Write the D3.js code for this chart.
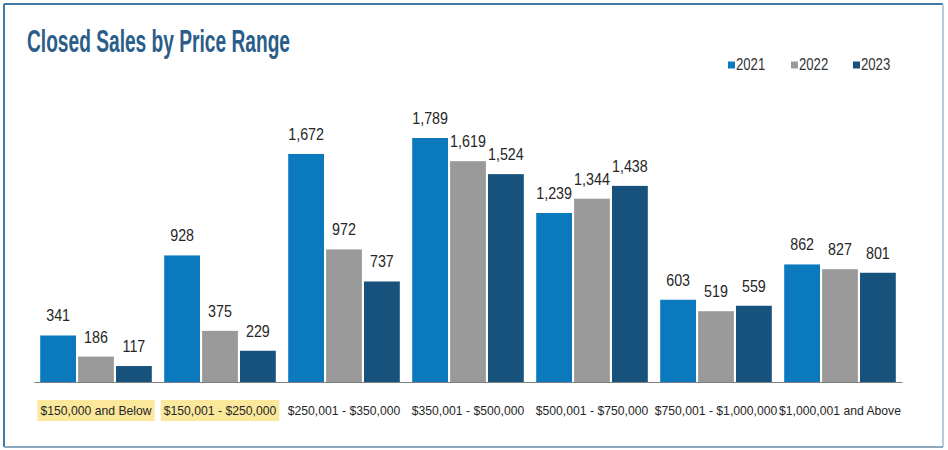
<!DOCTYPE html>
<html>
<head>
<meta charset="utf-8">
<script src="https://cdn.jsdelivr.net/npm/d3@7"></script>
<style>
  html, body { margin: 0; padding: 0; background: #fff; }
  svg { display: block; }
</style>
</head>
<body>
<script>
const categories = ["$150,000 and Below", "$150,001 - $250,000", "$250,001 - $350,000", "$350,001 - $500,000", "$500,001 - $750,000", "$750,001 - $1,000,000", "$1,000,001 and Above"];
const years = ["2021", "2022", "2023"];
const values2021 = [341, 928, 1672, 1789, 1239, 603, 862];
const values2022 = [186, 375, 972, 1619, 1344, 519, 827];
const values2023 = [117, 229, 737, 1524, 1438, 559, 801];
const highlighted = ["$150,000 and Below", "$150,001 - $250,000"];
const title = "Closed Sales by Price Range";

const colors = { "2021": "#0a79be", "2022": "#9a9a9a", "2023": "#17527d" };
const seriesByYear = { "2021": values2021, "2022": values2022, "2023": values2023 };
const FONT = "'Liberation Sans', Arial, sans-serif";

// horizontally condense a text selection (keeps it as real text)
function condense(sel, k) {
  sel.each(function() {
    const len = this.getComputedTextLength();
    d3.select(this).attr("textLength", len * k).attr("lengthAdjust", "spacingAndGlyphs");
  });
}

const W = 948, H = 450;
const svg = d3.select("body").append("svg").attr("width", W).attr("height", H);

// frame
svg.append("rect").attr("x", 0).attr("y", 0).attr("width", W).attr("height", H).attr("fill", "#fff");
svg.append("line").attr("x1", 4).attr("x2", 943).attr("y1", 4).attr("y2", 4).attr("stroke", "#3f7ba5").attr("stroke-width", 2);
svg.append("line").attr("x1", 4).attr("x2", 4).attr("y1", 4).attr("y2", 447).attr("stroke", "#3f7ba5").attr("stroke-width", 2);
svg.append("line").attr("x1", 943).attr("x2", 943).attr("y1", 4).attr("y2", 447).attr("stroke", "#b9cad8").attr("stroke-width", 2);
svg.append("line").attr("x1", 4).attr("x2", 943).attr("y1", 447).attr("y2", 447).attr("stroke", "#8aa9c0").attr("stroke-width", 2);

// title
svg.append("text")
  .attr("x", 27).attr("y", 52)
  .attr("font-family", FONT)
  .attr("font-weight", "bold")
  .attr("font-size", 31)
  .attr("fill", "#2a5d89")
  .attr("textLength", 263)
  .attr("lengthAdjust", "spacingAndGlyphs")
  .text(title);

// scales
const x0 = d3.scaleBand().domain(categories).range([34, 902]).paddingInner(0.1).paddingOuter(0.05);
const x1 = d3.scaleBand().domain(years).range([0, x0.bandwidth()]).paddingInner(0.055);
const y = d3.scaleLinear().domain([0, 1789]).range([382, 138]);

// bars
const groups = svg.append("g").selectAll("g").data(categories).join("g")
  .attr("transform", d => `translate(${x0(d)},0)`);

groups.each(function(cat, i) {
  const g = d3.select(this);
  const data = years.map(yr => ({ yr, v: seriesByYear[yr][i] }));
  g.selectAll("rect").data(data).join("rect")
    .attr("x", d => x1(d.yr))
    .attr("y", d => y(d.v))
    .attr("width", x1.bandwidth())
    .attr("height", d => y(0) - y(d.v))
    .attr("fill", d => colors[d.yr]);
  g.selectAll("text").data(data).join("text")
    .attr("x", d => x1(d.yr) + x1.bandwidth() / 2)
    .attr("y", d => y(d.v) - 14)
    .attr("text-anchor", "middle")
    .attr("font-family", FONT)
    .attr("font-size", 17)
    .attr("fill", "#262626")
    .text(d => d3.format(",")(d.v))
    .call(condense, 0.84);
});

// x axis
const xAxis = d3.axisBottom(x0).tickSize(0).tickPadding(0);
const axisG = svg.append("g").attr("transform", `translate(0,382)`).call(xAxis);
axisG.select(".domain").attr("stroke", "#7f7f7f").attr("stroke-width", 1.2);
axisG.selectAll(".tick text")
  .attr("y", 33)
  .attr("dy", "0")
  .attr("font-family", FONT)
  .attr("font-size", 12.2)
  .attr("fill", "#262626");

// highlight behind first two labels
axisG.selectAll(".tick").each(function(d) {
  if (highlighted.includes(d)) {
    const t = d3.select(this).select("text");
    const w = t.node().getComputedTextLength();
    d3.select(this).insert("rect", "text")
      .attr("x", -w / 2 - 3).attr("y", 18)
      .attr("width", w + 6).attr("height", 21)
      .attr("fill", "#fbe89b");
  }
});

// legend
const legendX = { "2021": 728, "2022": 791, "2023": 853 };
const leg = svg.append("g").selectAll("g").data(years).join("g")
  .attr("transform", d => `translate(${legendX[d]},60)`);
leg.append("rect").attr("x", 0).attr("y", 1.5).attr("width", 7).attr("height", 7).attr("fill", d => colors[d]);
leg.append("text").attr("x", 8).attr("y", 10)
  .attr("font-family", FONT)
  .attr("font-size", 16)
  .attr("fill", "#333")
  .text(d => d)
  .call(condense, 0.82);
</script>
</body>
</html>
